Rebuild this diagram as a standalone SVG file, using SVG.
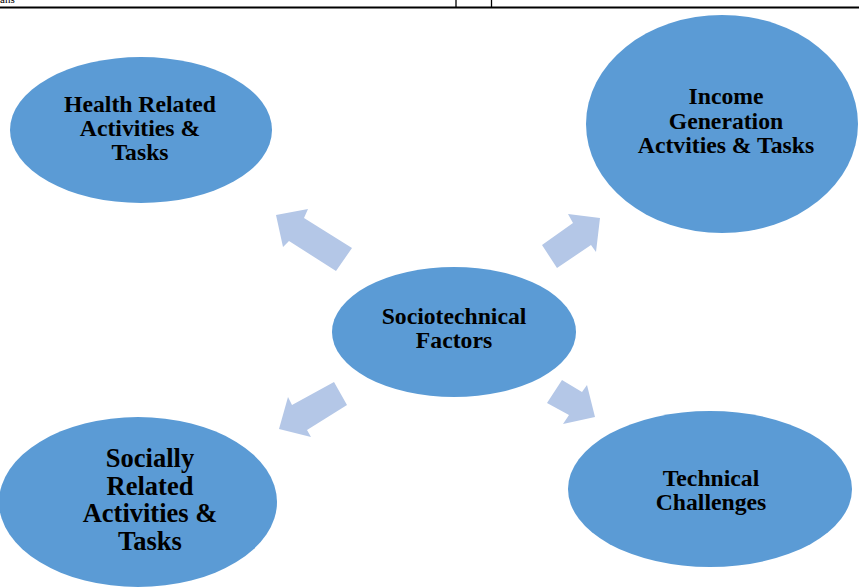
<svg xmlns="http://www.w3.org/2000/svg" width="859" height="587" viewBox="0 0 859 587">
<style>
.node{fill:#5B9BD5;}
.arrow{fill:#B4C7E7;}
.lbl{font-family:"Liberation Serif","Times New Roman",serif;font-weight:bold;font-size:23.7px;fill:#000;text-anchor:middle;}
.big{font-size:26.5px;}
.rule{stroke:#000;stroke-width:2;fill:none;}
</style>
<rect width="859" height="587" fill="#fff"/>
<g id="page-top">
<line class="rule" x1="0" y1="7.5" x2="859" y2="7.5"/>
<line x1="456" y1="0" x2="456" y2="8" stroke="#000" stroke-width="1.3"/>
<line x1="491.5" y1="0" x2="491.5" y2="8" stroke="#000" stroke-width="1.3"/>
<text x="0" y="3" font-family="Liberation Serif, serif" font-size="11" fill="#000">ans</text>
</g>
<g id="connectors">
<polygon class="arrow" points="276,215 308,209 304,218 352,248 336,271 289,241 283,247"/>
<polygon class="arrow" points="600,218 568,214 573,223 542,245 557,268 591,245 596,252"/>
<polygon class="arrow" points="279,429 288,397 292,405 334,382 347,405 307,430 311,437"/>
<polygon class="arrow" points="595,417 587,385 582,392 562,380 547,403 569,415 563,424"/>
</g>
<g id="health">
<ellipse class="node" cx="141" cy="130" rx="131" ry="73"/>
<text class="lbl" x="140" y="112">Health Related</text>
<text class="lbl" x="140" y="136">Activities &amp;</text>
<text class="lbl" x="140" y="160">Tasks</text>
</g>
<g id="income">
<ellipse class="node" cx="722" cy="124" rx="136" ry="109"/>
<text class="lbl" x="726" y="104">Income</text>
<text class="lbl" x="726" y="129">Generation</text>
<text class="lbl" x="726" y="153">Actvities &amp; Tasks</text>
</g>
<g id="sociotechnical">
<ellipse class="node" cx="454" cy="332" rx="122" ry="65"/>
<text class="lbl" x="454" y="324">Sociotechnical</text>
<text class="lbl" x="454" y="348">Factors</text>
</g>
<g id="socially">
<ellipse class="node" cx="138" cy="502" rx="139" ry="85"/>
<text class="lbl big" x="150" y="467">Socially</text>
<text class="lbl big" x="150" y="495">Related</text>
<text class="lbl big" x="150" y="522">Activities &amp;</text>
<text class="lbl big" x="150" y="550">Tasks</text>
</g>
<g id="technical">
<ellipse class="node" cx="710" cy="489" rx="142" ry="78"/>
<text class="lbl" x="711" y="486">Technical</text>
<text class="lbl" x="711" y="510">Challenges</text>
</g>
</svg>
